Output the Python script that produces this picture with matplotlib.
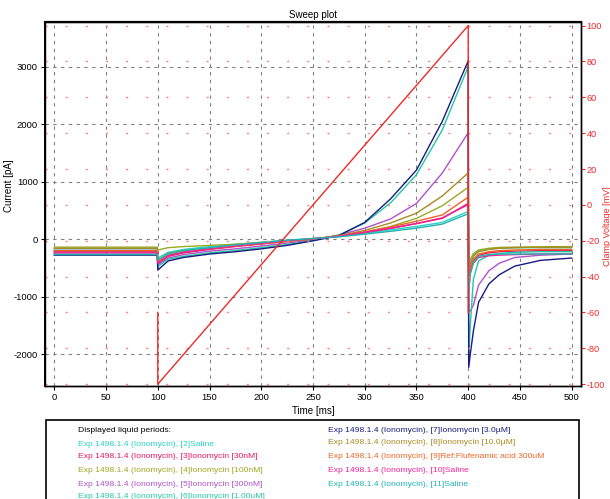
import matplotlib
matplotlib.use("Agg")
import matplotlib.pyplot as plt
from matplotlib.patches import Rectangle

plt.rcParams['font.family'] = ['Liberation Sans', 'DejaVu Sans']
plt.rcParams['axes.unicode_minus'] = False

# time base of the sweep [ms]: holding, ramp, tail
t_base = [0, 99.5]
t_ramp = [100, 110, 125, 150, 175, 200, 225, 250, 275, 300, 325, 350, 375, 400]
t_tail = [400.5, 402, 405, 410, 420, 430, 445, 470, 500]
time = t_base + t_ramp + t_tail

# current [pA] for each liquid period
saline_2 = [-170, -170,
            -330, -230, -180, -130, -90, -55, -20, 10, 40, 100, 160, 220, 290, 480,
            -600, -420, -280, -200, -170, -160, -150, -150, -150]
iono_30n = [-220, -220,
            -430, -300, -240, -180, -130, -85, -40, 0, 50, 115, 185, 270, 360, 620,
            -800, -550, -380, -280, -240, -220, -210, -200, -200]
iono_100n = [-140, -140,
             -190, -150, -130, -110, -90, -60, -30, 0, 50, 120, 220, 360, 580, 900,
             -500, -350, -250, -190, -160, -145, -140, -135, -130]
iono_300n = [-200, -200,
             -450, -330, -270, -210, -170, -120, -70, -15, 70, 190, 350, 620, 1150, 1850,
             -1250, -1250, -1150, -800, -550, -420, -320, -280, -260]
iono_1u = [-260, -260,
           -480, -350, -300, -240, -200, -150, -95, -25, 70, 280, 630, 1120, 1900, 3000,
           -2050, -1500, -700, -380, -280, -250, -230, -220, -220]
iono_3u = [-280, -280,
           -540, -380, -320, -260, -220, -170, -110, -30, 60, 290, 700, 1200, 2050, 3100,
           -2230, -2000, -1600, -1100, -780, -620, -470, -370, -330]
iono_10u = [-160, -160,
            -380, -250, -200, -160, -120, -80, -40, 0, 60, 150, 280, 450, 750, 1150,
            -600, -450, -300, -220, -180, -160, -150, -140, -140]
fluf = [-200, -200,
        -400, -280, -220, -170, -120, -80, -35, 5, 55, 125, 210, 310, 420, 730,
        -700, -500, -350, -260, -220, -200, -190, -180, -180]
saline_10 = [-240, -240,
             -420, -290, -230, -170, -120, -75, -30, 5, 50, 120, 190, 270, 370, 600,
             -900, -600, -420, -320, -290, -280, -270, -260, -260]
saline_11 = [-270, -270,
             -360, -260, -200, -150, -100, -60, -20, 10, 40, 85, 135, 190, 260, 440,
             -900, -600, -400, -300, -270, -260, -260, -260, -260]

series = [saline_2, iono_30n, iono_100n, iono_300n, iono_1u,
          iono_3u, iono_10u, fluf, saline_10, saline_11]
labels = ["Exp 1498.1.4 (Ionomycin), [2]Saline",
          "Exp 1498.1.4 (Ionomycin), [3]Ionomycin [30nM]",
          "Exp 1498.1.4 (Ionomycin), [4]Ionomycin [100nM]",
          "Exp 1498.1.4 (Ionomycin), [5]Ionomycin [300nM]",
          "Exp 1498.1.4 (Ionomycin), [6]Ionomycin [1.00uM]",
          "Exp 1498.1.4 (Ionomycin), [7]Ionomycin [3.0\u00b5M]",
          "Exp 1498.1.4 (Ionomycin), [8]Ionomycin [10.0\u00b5M]",
          "Exp 1498.1.4 (Ionomycin), [9]Ref:Flufenamic acid 300uM",
          "Exp 1498.1.4 (Ionomycin), [10]Saline",
          "Exp 1498.1.4 (Ionomycin), [11]Saline"]
colors = ["#2ad2c2", "#e8185a", "#9aaa22", "#b052c8", "#22c8a2",
          "#1a1a80", "#a88a22", "#f06424", "#f0229a", "#22b2b2"]

# clamp voltage command [mV]
v_time = [100, 100, 400, 400]
v_mv = [-60, -100, 100, -60]

x_ticks = list(range(0, 501, 50))
y_ticks = [-2000, -1000, 0, 1000, 2000, 3000]
v_ticks = list(range(-100, 101, 20))

W, H = 610, 499
fig = plt.figure(figsize=(W / 100, H / 100), dpi=100)
ax = fig.add_axes([45 / W, 1 - 386 / H, 536 / W, 364 / H])
ax2 = ax.twinx()

for vals, col in zip(series, colors):
    ax.plot(time, vals, color=col, lw=1.0)

ax.set_xlim(-9, 509)
ax.set_ylim(-2555, 3775)
ax.set_xticks(x_ticks)
ax.set_yticks(y_ticks)
ax.grid(True, color="#808080", lw=0.8, ls=(0, (3, 4)))
ax.tick_params(labelsize=6.8, length=3, width=0.8, pad=2)
ax.set_xlabel("Time [ms]", fontsize=7, labelpad=3)
ax.set_ylabel("Current [pA]", fontsize=7)
ax.yaxis.set_label_coords(-31 / 536, 0.55)
ax.set_title("Sweep plot", fontsize=7, pad=3)

ax2.plot(v_time, v_mv, color="#f02828", lw=1.0)
ax2.set_ylim(-101, 102)
ax2.set_yticks(v_ticks)
ax2.grid(True, axis="y", color="#ff8080", lw=1.0, ls=(0, (1.5, 13)))
ax2.tick_params(labelsize=6.6, length=3, width=0.8, pad=1, colors="#f02828")
ax2.set_ylabel("Clamp Voltage [mV]", fontsize=6.5, color="#f02828")
ax2.yaxis.set_label_coords(1 + 21.5 / 536, 0.44)

for a in (ax, ax2):
    for s in a.spines.values():
        s.set_linewidth(1.0)
ax.spines["top"].set_linewidth(1.6)
ax.spines["left"].set_linewidth(1.4)

# liquid periods box
fig.patches.append(Rectangle((46 / W, -0.05), 533 / W, 0.05 + 1 - 420 / H,
                             transform=fig.transFigure, fill=False,
                             edgecolor="black", lw=1.2))
fs = 6.1
fig.text(78 / W, 1 - 430 / H, "Displayed liquid periods:", fontsize=fs,
         va="center", color="black")
rows1 = [444, 457, 471, 484, 497]
rows2 = [430, 443, 457, 471, 484]
for i in range(5):
    fig.text(78 / W, 1 - rows1[i] / H, labels[i], fontsize=fs,
             va="center", color=colors[i])
    fig.text(328 / W, 1 - rows2[i] / H, labels[i + 5], fontsize=fs,
             va="center", color=colors[i + 5])

fig.savefig("out.png", dpi=100)
